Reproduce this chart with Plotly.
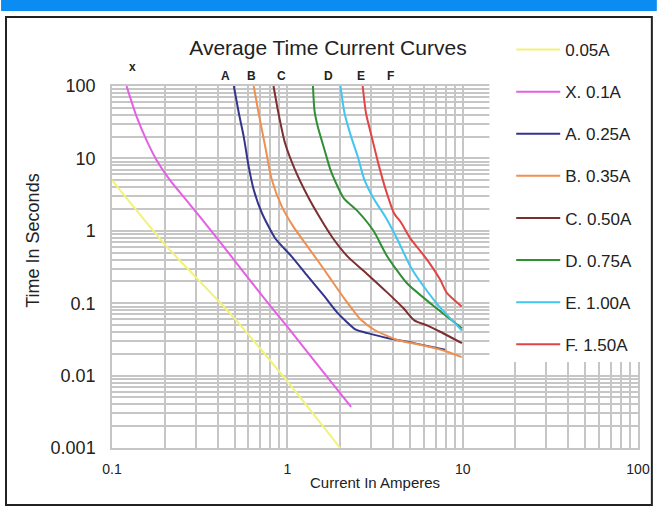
import plotly.graph_objects as go

# ---------------- data ----------------
series_names = ["0.05A", "X. 0.1A", "A. 0.25A", "B. 0.35A", "C. 0.50A",
                "D. 0.75A", "E. 1.00A", "F. 1.50A"]
series_colors = ["#f2f27a", "#e45fe4", "#33358c", "#ef8f50", "#7c2f2f",
                 "#2f8f35", "#42c6ef", "#e24545"]

amps_005 = [0.1, 0.2, 0.47, 1.0, 2.0]
secs_005 = [5.0, 0.65, 0.073, 0.0083, 0.001]

amps_x = [0.121, 0.138, 0.157, 0.179, 0.213, 0.264, 0.328, 0.43, 0.716, 1.01, 1.43, 2.31]
secs_x = [100, 38, 18, 9.6, 5.1, 2.7, 1.42, 0.62, 0.128, 0.046, 0.0158, 0.0037]

amps_a = [0.495, 0.529, 0.564, 0.602, 0.643, 0.716, 0.852, 1.06, 1.31, 1.63, 1.94, 2.46, 2.87, 3.72, 5.26, 7.94]
secs_a = [100, 42, 20, 7.7, 3.7, 1.76, 0.79, 0.44, 0.234, 0.124, 0.073, 0.043, 0.0386, 0.033, 0.0281, 0.0227]

amps_b = [0.643, 0.686, 0.748, 0.815, 0.929, 1.08, 1.26, 1.5, 1.78, 2.12, 2.63, 3.13, 4.24, 5.74, 8.1, 9.87]
secs_b = [100, 42, 14.6, 5.1, 2.17, 1.15, 0.68, 0.38, 0.21, 0.115, 0.059, 0.043, 0.031, 0.0266, 0.0215, 0.018]

amps_c = [0.834, 0.89, 0.97, 1.105, 1.31, 1.56, 1.82, 2.21, 2.87, 3.72, 4.6, 5.3, 6.3, 7.5, 9.9]
secs_c = [100, 42, 16.3, 7.0, 2.98, 1.42, 0.79, 0.44, 0.25, 0.14, 0.085, 0.058, 0.049, 0.04, 0.028]

amps_d = [1.4, 1.43, 1.5, 1.63, 1.76, 1.9, 2.1, 2.5, 3.1, 3.7, 4.8, 6.7, 9.9]
secs_d = [100, 45, 26, 13.1, 7.0, 4.5, 2.8, 1.9, 1.0, 0.45, 0.19, 0.095, 0.045]

amps_e = [2.01, 2.12, 2.31, 2.52, 2.75, 3.13, 3.6, 4.2, 5.04, 6.0, 7.3, 9.9]
secs_e = [100, 42, 20, 10.6, 5.1, 2.7, 1.6, 0.8, 0.32, 0.17, 0.092, 0.042]

amps_f = [2.69, 2.81, 3.06, 3.34, 3.64, 4.06, 4.45, 5.04, 6.26, 7.45, 8.1, 9.87]
secs_f = [100, 42, 18, 7.7, 3.7, 1.75, 1.3, 0.78, 0.4, 0.21, 0.14, 0.09]

curve_letters = ["x", "A", "B", "C", "D", "E", "F"]

x_tick_vals = [0.1, 1, 10, 100]
x_tick_text = ["0.1", "1", "10", "100"]
y_tick_vals = [0.001, 0.01, 0.1, 1, 10, 100]
y_tick_text = ["0.001", "0.01", "0.1", "1", "10", "100"]

# ---------------- figure ----------------
W, H = 662, 507
L, R, T, B = 112, 19, 86, 59
PW, PH = W - L - R, H - T - B


def px(x):
    return (x - L) / PW


def py(y):
    return (H - B - y) / PH


FONT = "Liberation Sans, Arial, Helvetica, sans-serif"
GRID = "#c6c6c6"

all_x = [amps_005, amps_x, amps_a, amps_b, amps_c, amps_d, amps_e, amps_f]
all_y = [secs_005, secs_x, secs_a, secs_b, secs_c, secs_d, secs_e, secs_f]

fig = go.Figure()
for name, col, xs, ys in zip(series_names, series_colors, all_x, all_y):
    fig.add_trace(go.Scatter(
        x=xs, y=ys, mode="lines", name=name, legendgroup=name,
        line=dict(color=col, width=2, shape="spline", smoothing=0.6),
    ))

minor_x = [m * 10 ** e for e in range(-1, 2) for m in range(2, 10)]
minor_y = [m * 10 ** e for e in range(-3, 2) for m in range(2, 10)]

fig.update_xaxes(
    type="log", range=[-1, 2], tickvals=x_tick_vals, ticktext=x_tick_text,
    showgrid=True, gridcolor=GRID, gridwidth=1.5, ticks="",
    showline=True, linecolor=GRID, linewidth=1.5, mirror=True,
    zeroline=False, tickfont=dict(family=FONT, size=14, color="#222"),
    ticklabelstandoff=7,
    minor=dict(tickvals=minor_x, showgrid=True, gridcolor=GRID, gridwidth=1.5, ticks=""),
)
fig.update_yaxes(
    type="log", range=[-3, 2], tickvals=y_tick_vals, ticktext=y_tick_text,
    showgrid=True, gridcolor=GRID, gridwidth=1.5, ticks="",
    showline=True, linecolor=GRID, linewidth=1.5, mirror=True,
    zeroline=False, tickfont=dict(family=FONT, size=18, color="#222"),
    ticklabelstandoff=11,
    minor=dict(tickvals=minor_y, showgrid=True, gridcolor=GRID, gridwidth=1.5, ticks=""),
)

shapes = [
    # blue banner at top
    dict(type="rect", xref="paper", yref="paper", x0=px(0), x1=px(W), y0=py(11), y1=py(0),
         fillcolor="#0b8cf2", line=dict(width=0), layer="above"),
    # white box behind legend
    dict(type="rect", xref="paper", yref="paper", x0=px(493), x1=px(655), y0=py(362), y1=py(18),
         fillcolor="white", line=dict(width=0), layer="above"),
    # outer frame
    dict(type="rect", xref="paper", yref="paper", x0=px(5), x1=px(657), y0=py(505), y1=py(17),
         fillcolor="rgba(0,0,0,0)", line=dict(color="#222", width=2), layer="above"),
]

letter_px = [133, 227, 253, 283, 331, 363, 393]
letter_py = [67, 76, 76, 76, 76, 76, 76]
annotations = []
for t, x0, y0 in zip(curve_letters, letter_px, letter_py):
    annotations.append(dict(text="<b>%s</b>" % t, x=px(x0), y=py(y0), xref="paper", yref="paper",
                            showarrow=False, xanchor="center", yanchor="middle",
                            font=dict(family=FONT, size=12, color="#222")))
annotations.append(dict(text="Time In Seconds", x=px(32), y=py(241), xref="paper", yref="paper",
                        showarrow=False, textangle=-90, xanchor="center", yanchor="middle",
                        font=dict(family=FONT, size=18, color="#222")))
annotations.append(dict(text="Current In Amperes", x=px(378), y=py(482), xref="paper", yref="paper",
                        showarrow=False, xanchor="center", yanchor="middle",
                        font=dict(family=FONT, size=15, color="#222")))

fig.update_layout(
    width=W, height=H, autosize=False,
    margin=dict(l=L, r=R, t=T, b=B, pad=0),
    paper_bgcolor="white", plot_bgcolor="white",
    title=dict(text="Average Time Current Curves", x=px(330), xref="paper", xanchor="center",
               y=1 - 48 / H, yref="container", yanchor="middle",
               font=dict(family=FONT, size=21, color="#222")),
    showlegend=True,
    legend=dict(x=px(515), y=py(32), xref="paper", yref="paper", xanchor="left", yanchor="top",
                bgcolor="rgba(0,0,0,0)", borderwidth=0, tracegroupgap=17, itemwidth=44,
                maxheight=480,
                font=dict(family=FONT, size=17, color="#222")),
    shapes=shapes,
    annotations=annotations,
)

fig.write_html("out.html", config={"displayModeBar": False},
               post_script="document.body.style.margin='0';document.body.style.overflow='hidden';")
